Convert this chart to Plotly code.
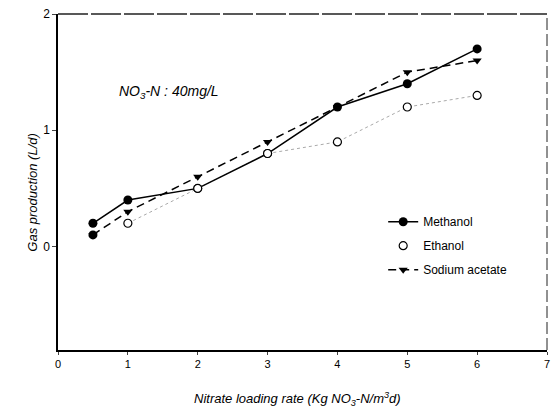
import plotly.graph_objects as go

x_methanol = [0.5, 1, 2, 3, 4, 5, 6]
y_methanol = [0.2, 0.4, 0.5, 0.8, 1.2, 1.4, 1.7]
x_ethanol = [1, 2, 3, 4, 5, 6]
y_ethanol = [0.2, 0.5, 0.8, 0.9, 1.2, 1.3]
x_acetate = [0.5, 1, 2, 3, 4, 5, 6]
y_acetate = [0.1, 0.3, 0.6, 0.9, 1.2, 1.5, 1.6]
x_ticks = [0, 1, 2, 3, 4, 5, 6, 7]
y_ticks = [0, 1, 2]

FONT = "Liberation Sans, Arial, sans-serif"

fig = go.Figure()
# ethanol dotted connecting line (no legend)
fig.add_trace(go.Scatter(
    x=x_ethanol, y=y_ethanol, mode="lines", showlegend=False, hoverinfo="skip",
    line=dict(color="#aaaaaa", width=1, dash="dot"),
))
fig.add_trace(go.Scatter(
    x=x_acetate, y=y_acetate, mode="lines+markers", name="Sodium acetate",
    legendrank=3, legendgroup="c",
    line=dict(color="black", width=1.5, dash="8px,5px"),
    marker=dict(symbol="triangle-down", size=8, color="black"),
))
# first acetate point appears as a filled dot in the reference
fig.add_trace(go.Scatter(
    x=x_acetate[:1], y=y_acetate[:1], mode="markers", showlegend=False, hoverinfo="skip",
    legendgroup="c",
    marker=dict(symbol="circle", size=9, color="black"),
))
fig.add_trace(go.Scatter(
    x=x_methanol, y=y_methanol, mode="lines+markers", name="Methanol",
    legendrank=1, legendgroup="a",
    line=dict(color="black", width=1.5),
    marker=dict(symbol="circle", size=9, color="black"),
))
fig.add_trace(go.Scatter(
    x=x_ethanol, y=y_ethanol, mode="markers", name="Ethanol",
    legendrank=2, legendgroup="b",
    marker=dict(symbol="circle", size=8, color="white", line=dict(width=1.2, color="black")),
))

fig.update_layout(
    width=557, height=412,
    margin=dict(l=58, r=7, t=12, b=62),
    paper_bgcolor="white", plot_bgcolor="white",
    font=dict(family=FONT, size=12, color="black"),
    showlegend=True,
    legend=dict(x=0.665, y=0.425, xanchor="left", yanchor="top",
                traceorder="grouped",
                bgcolor="rgba(0,0,0,0)", font=dict(size=12), itemwidth=30,
                tracegroupgap=5),
    xaxis=dict(range=[0, 7], tickvals=x_ticks, ticks="outside", ticklen=3,
               showline=True, linecolor="black", linewidth=1.5, showgrid=False,
               zeroline=False, tickfont=dict(size=11)),
    yaxis=dict(range=[-0.89, 2], tickvals=y_ticks, ticks="outside", ticklen=4,
               showline=True, linecolor="black", linewidth=1.5, showgrid=False,
               zeroline=False, tickfont=dict(size=12)),
    shapes=[
        dict(type="line", xref="paper", yref="paper", x0=0, x1=1, y0=1, y1=1,
             line=dict(color="#222222", width=1.3, dash="30px,3px")),
        dict(type="line", xref="paper", yref="paper", x0=1, x1=1, y0=0, y1=1,
             line=dict(color="#222222", width=1, dash="12px,4px")),
    ],
    annotations=[
        dict(text="<i>Nitrate loading rate (Kg NO<sub>3</sub>-N/m<sup>3</sup>d)</i>",
             xref="paper", yref="paper", x=0.49, y=-0.145, xanchor="center", yanchor="middle",
             showarrow=False, font=dict(size=13)),
        dict(text="<i>Gas production (L/d)</i>", textangle=-90,
             xref="paper", yref="paper", x=-0.052, y=0.47, xanchor="center", yanchor="middle",
             showarrow=False, font=dict(size=13)),
        dict(text="<i>NO<sub>3</sub>-N : 40mg/L</i>",
             xref="x", yref="y", x=0.85, y=1.33, xanchor="left", yanchor="middle",
             showarrow=False, font=dict(size=14)),
    ],
)

fig.write_html("out.html")
